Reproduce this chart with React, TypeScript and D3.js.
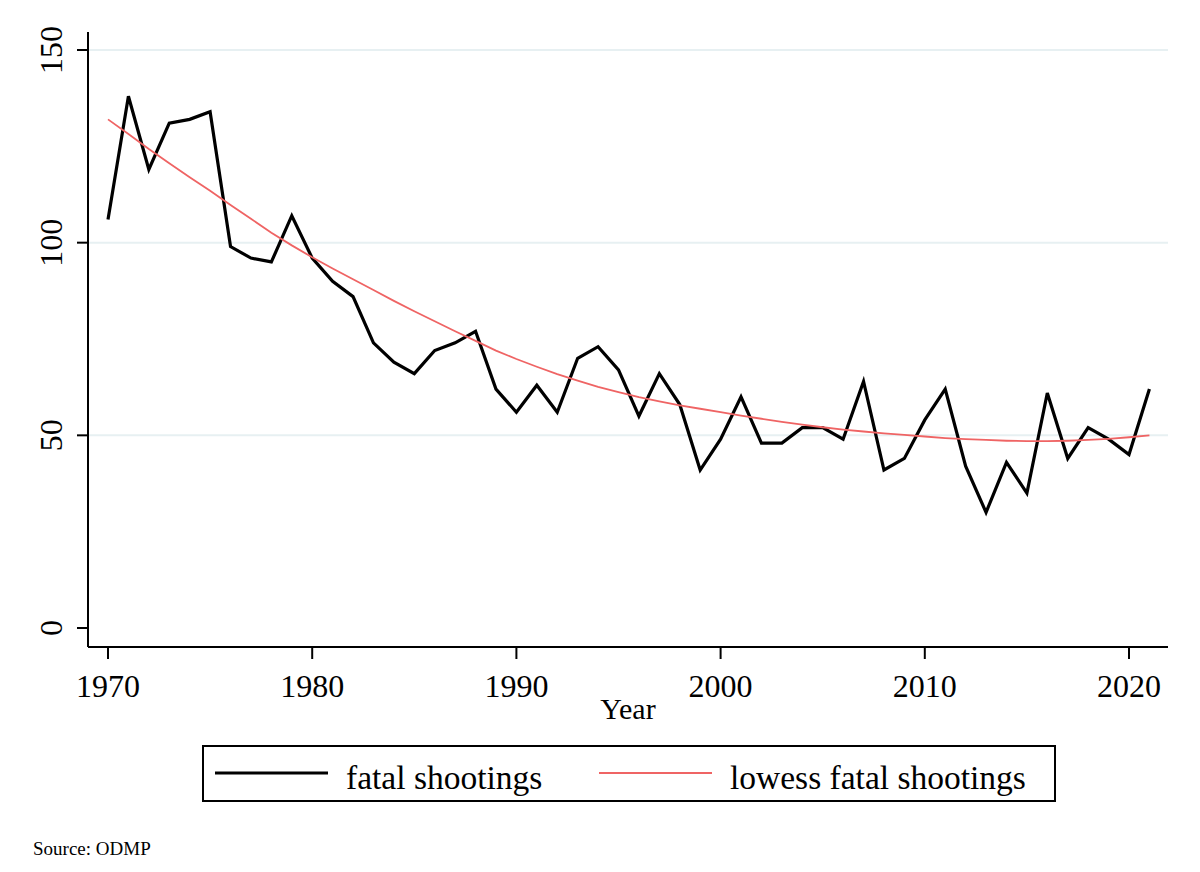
import { useEffect } from "react";
import * as d3 from "d3";

const years = d3.range(1970, 2022);

// fatal shootings per year
const fatalShootings = [
  106, 138, 119, 131, 132, 134, 99, 96, 95, 107,
  96, 90, 86, 74, 69, 66, 72, 74, 77, 62,
  56, 63, 56, 70, 73, 67, 55, 66, 58, 41,
  49, 60, 48, 48, 52, 52, 49, 64, 41, 44,
  54, 62, 42, 30, 43, 35, 61, 44, 52, 49,
  45, 62,
];

// lowess smooth
const lowessShootings = [
  132, 128.2, 124.3, 120.6, 117, 113.5, 109.8, 106.2, 102.6, 99.3,
  96.2, 93.3, 90.5, 87.7, 84.9, 82.2, 79.6, 77, 74.5, 72,
  69.8, 67.8, 65.9, 64.2, 62.6, 61.2, 59.9, 58.8, 57.8, 56.9,
  56, 55.1, 54.3, 53.5, 52.8, 52.1, 51.5, 51, 50.5, 50.1,
  49.7, 49.3, 49, 48.8, 48.6, 48.5, 48.5, 48.6, 48.8, 49.1,
  49.5, 50,
];

const yTicks = [0, 50, 100, 150];
const xTicks = [1970, 1980, 1990, 2000, 2010, 2020];
const gridTicks = [50, 100, 150];

const legendItems = [
  { label: "fatal shootings", color: "#000000", width: 3 },
  { label: "lowess fatal shootings", color: "#ef6464", width: 1.8 },
];

const font = "'Liberation Serif', 'Times New Roman', serif";

export default function App() {
  useEffect(() => {
    document.body.style.margin = "0";
  }, []);

  const width = 1200;
  const height = 872;
  const left = 88;
  const right = 1168;
  const top = 32;
  const bottom = 647;

  const x = d3.scaleLinear().domain([1970, 2020]).range([108, 1129]);
  const y = d3.scaleLinear().domain([0, 150]).range([628, 50]);

  const line = d3
    .line<number>()
    .x((_, i) => x(years[i]))
    .y((d) => y(d));

  return (
    <svg width={width} height={height} style={{ display: "block", background: "#fff" }}>
      {/* gridlines */}
      {gridTicks.map((t) => (
        <line key={t} x1={left} x2={right} y1={y(t)} y2={y(t)} stroke="#e7f0f2" strokeWidth={2} />
      ))}

      {/* series */}
      <path d={line(fatalShootings) ?? ""} fill="none" stroke="#000" strokeWidth={3.2} strokeLinejoin="miter" />
      <path d={line(lowessShootings) ?? ""} fill="none" stroke="#ef6464" strokeWidth={1.8} />

      {/* axes */}
      <line x1={left} x2={left} y1={top} y2={bottom} stroke="#000" strokeWidth={2} />
      <line x1={left} x2={right} y1={bottom} y2={bottom} stroke="#000" strokeWidth={2} />

      {yTicks.map((t) => (
        <g key={t}>
          <line x1={77} x2={left} y1={y(t)} y2={y(t)} stroke="#000" strokeWidth={2} />
          <text
            transform={`translate(62,${y(t)}) rotate(-90)`}
            textAnchor="middle"
            fontFamily={font}
            fontSize={32}
            fill="#000"
          >
            {t}
          </text>
        </g>
      ))}

      {xTicks.map((t) => (
        <g key={t}>
          <line x1={x(t)} x2={x(t)} y1={bottom} y2={659} stroke="#000" strokeWidth={2} />
          <text x={x(t)} y={697} textAnchor="middle" fontFamily={font} fontSize={32} fill="#000">
            {t}
          </text>
        </g>
      ))}

      <text x={628} y={719} textAnchor="middle" fontFamily={font} fontSize={30} fill="#000">
        Year
      </text>

      {/* legend */}
      <rect x={203} y={746} width={852} height={55} fill="#fff" stroke="#000" strokeWidth={2} />
      {legendItems.map((item, i) => {
        const lx = i === 0 ? 215 : 599;
        return (
          <g key={item.label}>
            <line x1={lx} x2={lx + 113} y1={773} y2={773} stroke={item.color} strokeWidth={item.width} />
            <text x={lx + 131} y={789} fontFamily={font} fontSize={33.5} fill="#000">
              {item.label}
            </text>
          </g>
        );
      })}

      <text x={33} y={855} fontFamily={font} fontSize={19} fill="#000">
        Source: ODMP
      </text>
    </svg>
  );
}
